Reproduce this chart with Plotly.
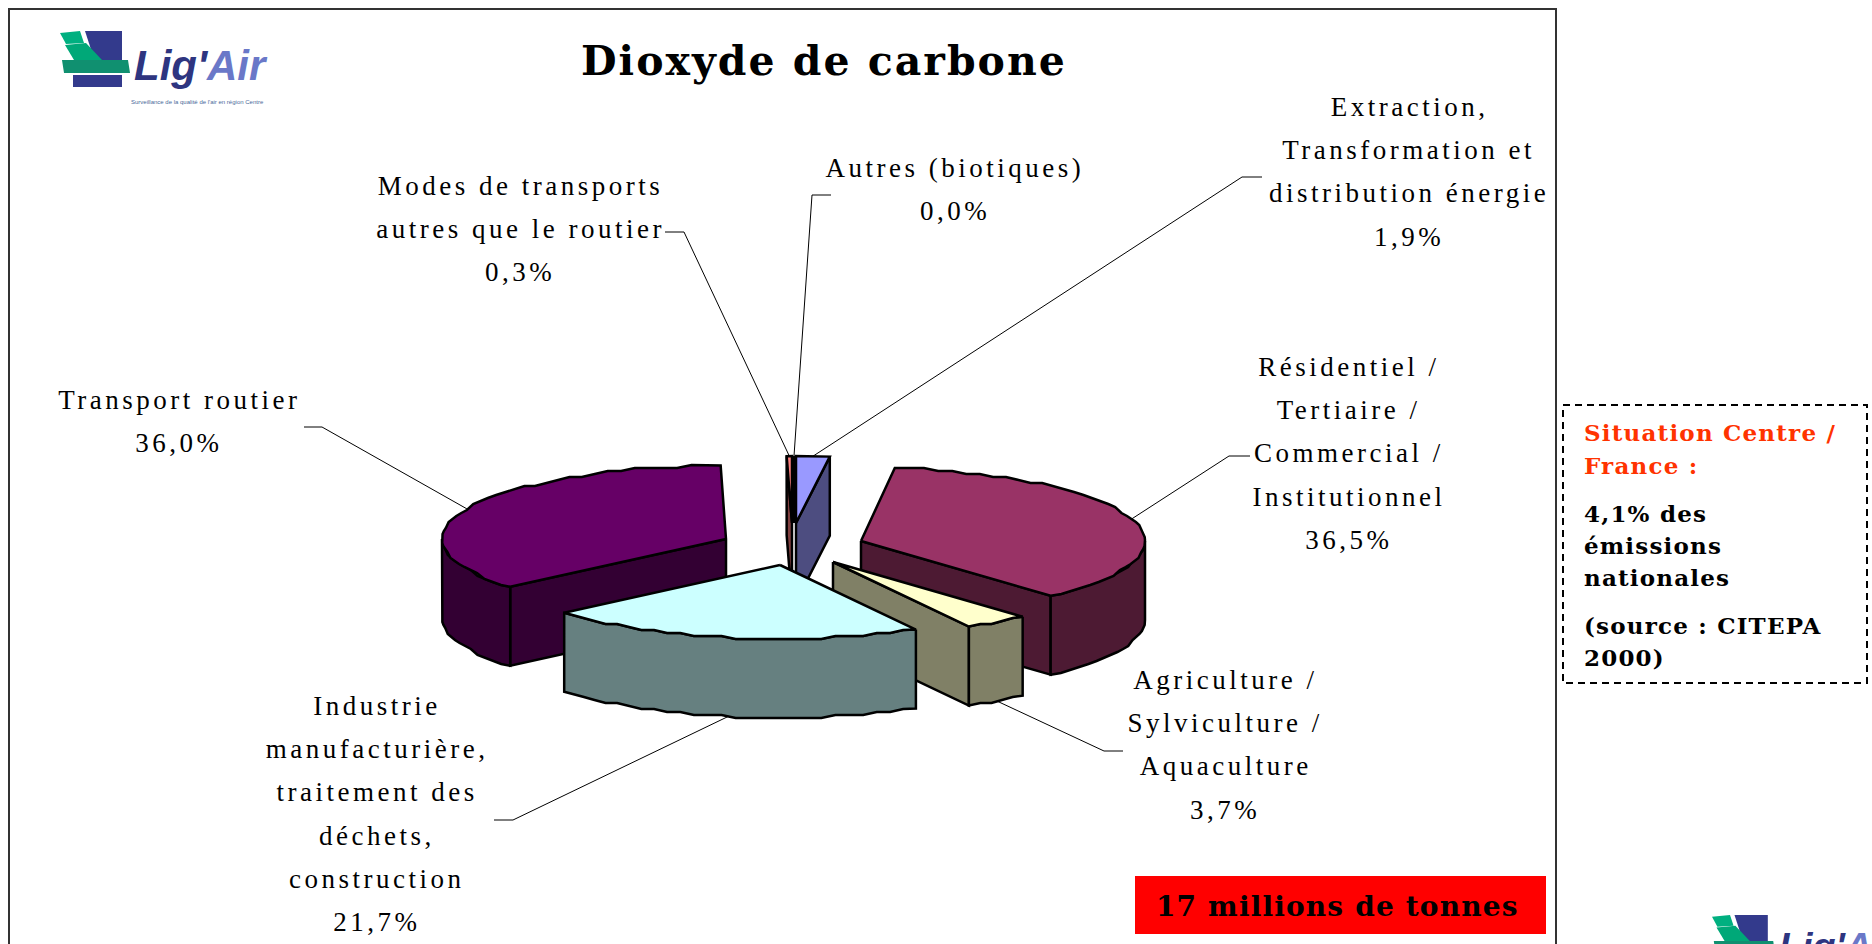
import numpy as np
import plotly.graph_objects as go

# ---- data -------------------------------------------------------------
CATEGORIES = ["Extraction", "Résidentiel", "Agriculture", "Industrie", "Transport routier", "Modes", "Autres"]
VALUES = [1.9, 36.5, 3.7, 21.7, 36.0, 0.3, 0.0]
VALUE_TEXT = ["1,9%", "36,5%", "3,7%", "21,7%", "36,0%", "0,3%", "0,0%"]
LABEL_LINES = [
    ["Extraction,", "Transformation et", "distribution énergie"],
    ["Résidentiel /", "Tertiaire /", "Commercial /", "Institutionnel"],
    ["Agriculture /", "Sylviculture /", "Aquaculture"],
    ["Industrie", "manufacturière,", "traitement des", "déchets,", "construction"],
    ["Transport routier"],
    ["Modes de transports", "autres que le routier"],
    ["Autres (biotiques)"],
]
TOP_COLORS = ["#9999FF", "#993366", "#FFFFCC", "#CCFFFF", "#660066", "#FF8080", "#FFC0A0"]
SIDE_COLORS = ["#4D4D80", "#4D1A33", "#808066", "#668080", "#330033", "#804040", "#806050"]

# ---- layout constants (pixels) ---------------------------------------
W, H = 1872, 944
RX, RY, DEPTH = 284, 73.5, 79
APEX = [(796, 523), (861, 541), (833, 562), (780, 565), (726, 539), (792, 523), (794, 523)]
RY_SCALE = [0.91, 1, 1, 1, 1, 0.91, 0.91]
DRAW_ORDER = [0, 5, 6, 1, 4, 2, 3]
LABEL_POS = [(1409, 107), (1349, 367), (1225, 680), (377, 706), (179, 400), (520, 186), (955, 168)]
LINE_PITCH = 43.2
LEADER_ELBOW = [[(1262, 177), (1242, 177)], [(1250, 456), (1229, 456)], [(1123, 751), (1104, 751)],
                [(494, 820), (513, 820)], [(304, 427), (322, 427)], [(665, 232), (684, 232)], [(831, 195), (812, 195)]]
LABEL_FONT = "Liberation Serif"
BOLD_FONT = "DejaVu Serif"
# font size -> letter spacing (px) applied in the page
LETTER_SPACING = {27: 3.5, 41: 2.0, 28: 1.15, 23: 1.2}

total = sum(VALUES)
starts = np.concatenate([[0], np.cumsum(VALUES)[:-1]]) / total * 360
sweeps = np.array(VALUES) / total * 360


def arc(i, t0, t1):
    n = max(2, int(abs(t1 - t0) / 3) + 2)
    t = np.radians(np.linspace(t0, t1, n))
    x = APEX[i][0] + RX * np.sin(t)
    y = APEX[i][1] - RY * RY_SCALE[i] * np.cos(t)
    if n > 4:  # the reference outline is coarsely stepped along the long arcs
        y[1:-1] = np.round(y[1:-1] / 3) * 3
    return x, y


fig = go.Figure()


def poly(xs, ys, color):
    fig.add_trace(go.Scatter(x=list(xs) + [xs[0]], y=list(ys) + [ys[0]], mode="lines", fill="toself",
                             fillcolor=color, line=dict(color="black", width=2.5), hoverinfo="skip",
                             showlegend=False))


for i in DRAW_ORDER:
    s, e = starts[i], starts[i] + sweeps[i]
    ax, ay = APEX[i]
    for t in (s, e):
        px, py = arc(i, t, t)
        px, py = px[0], py[0]
        if (t == s and 180 <= t % 360 <= 360) or (t == e and 0 <= t <= 180):
            poly([ax, px, px, ax], [ay, py, py + DEPTH, ay + DEPTH], SIDE_COLORS[i])
    lo, hi = max(s, 90), min(e, 270)
    if hi > lo:
        wx, wy = arc(i, lo, hi)
        poly(np.concatenate([wx, wx[::-1]]), np.concatenate([wy, wy[::-1] + DEPTH]), SIDE_COLORS[i])
    tx, ty = arc(i, s, e)
    poly(np.concatenate([[ax], tx]), np.concatenate([[ay], ty]), TOP_COLORS[i])

for i in range(len(VALUES)):
    m = starts[i] + sweeps[i] / 2
    t = np.radians(m)
    mx = APEX[i][0] + RX * np.sin(t)
    my = APEX[i][1] - RY * RY_SCALE[i] * np.cos(t)
    dy = DEPTH if 90 < m < 270 else 0
    ex = [p[0] for p in LEADER_ELBOW[i]] + [mx]
    ey = [p[1] for p in LEADER_ELBOW[i]] + [my + dy]
    fig.add_trace(go.Scatter(x=ex, y=ey, mode="lines", line=dict(color="black", width=1),
                             hoverinfo="skip", showlegend=False))

annotations = []


def text(x, y, s, size, color="black", family=LABEL_FONT, anchor="center"):
    annotations.append(dict(x=x, y=y, xref="x", yref="y", text=s, showarrow=False, xanchor=anchor, align=anchor,
                            yanchor="middle", borderpad=0, font=dict(family=family, size=size, color=color)))


for i, lines in enumerate(LABEL_LINES):
    x, y = LABEL_POS[i]
    for j, ln in enumerate(lines + [VALUE_TEXT[i]]):
        text(x, y + j * LINE_PITCH, ln, 27)

text(824, 61, "<b>Dioxyde de carbone</b>", 41, family=BOLD_FONT)
text(1337, 906, "<b>17 millions de tonnes</b>", 28, family=BOLD_FONT)

BOX_LINES = [("Situation Centre /", "#FF3300", 432), ("France :", "#FF3300", 465), ("4,1% des", "black", 513),
             ("émissions", "black", 545), ("nationales", "black", 577), ("(source : CITEPA", "black", 625),
             ("2000)", "black", 657)]
for s, c, y in BOX_LINES:
    text(1583, y, f"<b>{s}</b>", 23, color=c, family=BOLD_FONT, anchor="left")

shapes = [
    dict(type="rect", x0=9, y0=9, x1=1556, y1=960, line=dict(color="#333333", width=2), layer="below"),
    dict(type="rect", x0=1135, y0=876, x1=1546, y1=934, fillcolor="#FF0000", line=dict(width=0), layer="below"),
    dict(type="rect", x0=1563, y0=405, x1=1867, y1=683, line=dict(color="black", width=2, dash="7px,5px"), layer="below"),
]


def logo(ox, oy, k):
    def p(pts, color):
        d = "M" + " L".join(f"{ox + k * a},{oy + k * b}" for a, b in pts) + " Z"
        shapes.append(dict(type="path", path=d, fillcolor=color, line=dict(width=0), layer="below"))

    p([(25, 0), (62, 0), (62, 40), (38, 40)], "#333A8C")
    p([(0, 2), (20, 0), (24, 12), (6, 13)], "#00B080")
    p([(5, 14), (26, 12), (42, 29), (14, 29)], "#00A878")
    p([(2, 29), (68, 29), (70, 42), (4, 42)], "#109070")
    p([(13, 44), (62, 44), (62, 56), (13, 56)], "#333A8C")
    annotations.append(dict(x=ox + 72 * k, y=oy + 9 * k, xref="x", yref="y", showarrow=False, xanchor="left", yanchor="top",
                            text="<b><i><span style='color:#2E3580'>Lig'</span><span style='color:#6A78C8'>Air</span></i></b>",
                            font=dict(family="Liberation Sans", size=42 * k)))
    if oy + 71 * k < H:
        annotations.append(dict(x=ox + 69 * k, y=oy + 71 * k, xref="x", yref="y", showarrow=False, xanchor="left", yanchor="middle",
                                text="Surveillance de la qualité de l'air en région Centre",
                                font=dict(family="Liberation Sans", size=6 * k, color="#4A6A9A")))


logo(60, 31, 1)
logo(1712, 915, 0.9)

fig.update_layout(
    width=W, height=H, margin=dict(l=0, r=0, t=0, b=0), paper_bgcolor="white", plot_bgcolor="white",
    xaxis=dict(range=[0, W], visible=False, fixedrange=True),
    yaxis=dict(range=[H, 0], visible=False, fixedrange=True),
    shapes=shapes, annotations=annotations, showlegend=False,
)
spacing_js = "{" + ",".join(f"'{k}':{v}" for k, v in LETTER_SPACING.items()) + "}"
post = (
    "document.body.style.margin='0';document.body.style.overflow='hidden';"
    f"var LS={spacing_js};"
    "document.querySelectorAll('.annotation-text').forEach(function(t){"
    "var s=parseFloat(t.style.fontSize);"
    "if(LS[s]!==undefined){t.style.letterSpacing=LS[s]+'px';}});"
)
fig.write_html("out.html", config={"displayModeBar": False, "responsive": False}, post_script=post)
